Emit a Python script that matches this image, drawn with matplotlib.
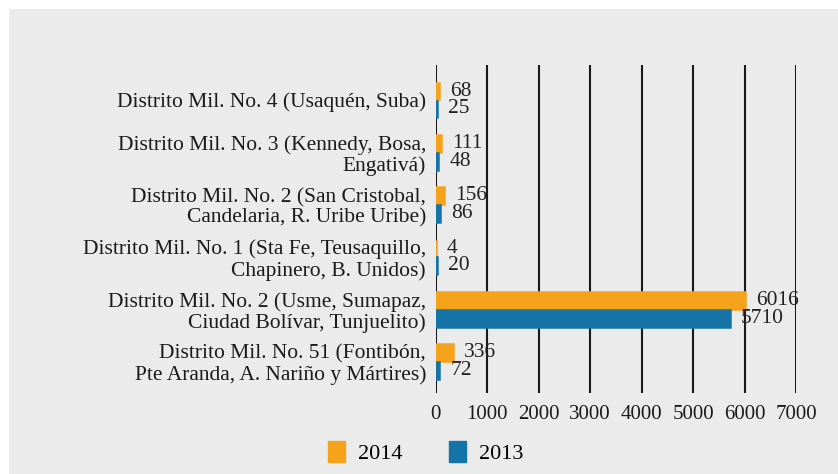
import numpy as np
import matplotlib
matplotlib.use("Agg")
import matplotlib.pyplot as plt
from matplotlib.patches import Patch

# datos (de arriba hacia abajo)
distritos = [
    "Distrito Mil. No. 4 (Usaquén, Suba)",
    "Distrito Mil. No. 3 (Kennedy, Bosa,\nEngativá)",
    "Distrito Mil. No. 2 (San Cristobal,\nCandelaria, R. Uribe Uribe)",
    "Distrito Mil. No. 1 (Sta Fe, Teusaquillo,\nChapinero, B. Unidos)",
    "Distrito Mil. No. 2 (Usme, Sumapaz,\nCiudad Bolívar, Tunjuelito)",
    "Distrito Mil. No. 51 (Fontibón,\nPte Aranda, A. Nariño y Mártires)",
]
valores_2014 = [68, 111, 156, 4, 6016, 336]
valores_2013 = [25, 48, 86, 20, 5710, 72]
xticks = [0, 1000, 2000, 3000, 4000, 5000, 6000, 7000]

naranja = "#f5a31a"
azul = "#1474a8"
fondo = "#ebebeb"

plt.rcParams['font.family'] = ['Liberation Serif', 'DejaVu Serif']

fig = plt.figure(figsize=(8.38, 4.74), dpi=100, facecolor="white")
# fondo gris con borde blanco arriba/izquierda
fig.patches.append(plt.Rectangle((9 / 838, 0), 1, 1 - 9 / 474, transform=fig.transFigure,
                                 facecolor=fondo, edgecolor="none", zorder=-10))
ax = fig.add_axes([0.520, 0.171, 0.430, 0.692])
ax.set_facecolor("none")

y = np.arange(len(distritos))
h = 0.32
b14 = ax.barh(y - h / 2 - 0.01, valores_2014, height=h, color=naranja,
              edgecolor=naranja, linewidth=1.8, zorder=3)
b13 = ax.barh(y + h / 2 + 0.01, valores_2013, height=h, color=azul,
              edgecolor=azul, linewidth=1.8, zorder=3)

for bars, vals in ((b14, valores_2014), (b13, valores_2013)):
    for rect, v in zip(bars, vals):
        ax.annotate(str(v), (rect.get_width(), rect.get_y() + rect.get_height() / 2),
                    xytext=(8, 0), textcoords="offset points",
                    ha="left", va="center", fontsize=15.5, color="#222222", zorder=4)

ax.set_xlim(0, 7000)
ax.set_ylim(len(distritos) - 0.4, -0.67)
ax.set_xticks(xticks)
ax.set_xticklabels([str(t) for t in xticks], fontsize=15)
ax.set_yticks(y)
ax.set_yticklabels(distritos, fontsize=15.5, linespacing=1.1)
ax.tick_params(axis="both", length=0, colors="#1a1a1a")
ax.tick_params(axis="x", pad=9)
ax.tick_params(axis="y", pad=7)
ax.grid(axis="x", color="#1a1a1a", linewidth=1.5, zorder=1)
for s in ax.spines.values():
    s.set_visible(False)

handles = [Patch(color=naranja, label="2014"), Patch(color=azul, label="2013")]
fig.legend(handles=handles, loc="center", bbox_to_anchor=(0.508, 0.045), ncol=2,
           frameon=False, fontsize=16, handlelength=0.75, handleheight=1.1,
           columnspacing=2.1, handletextpad=0.6)

fig.savefig("out.png", dpi=100, facecolor=fig.get_facecolor())
